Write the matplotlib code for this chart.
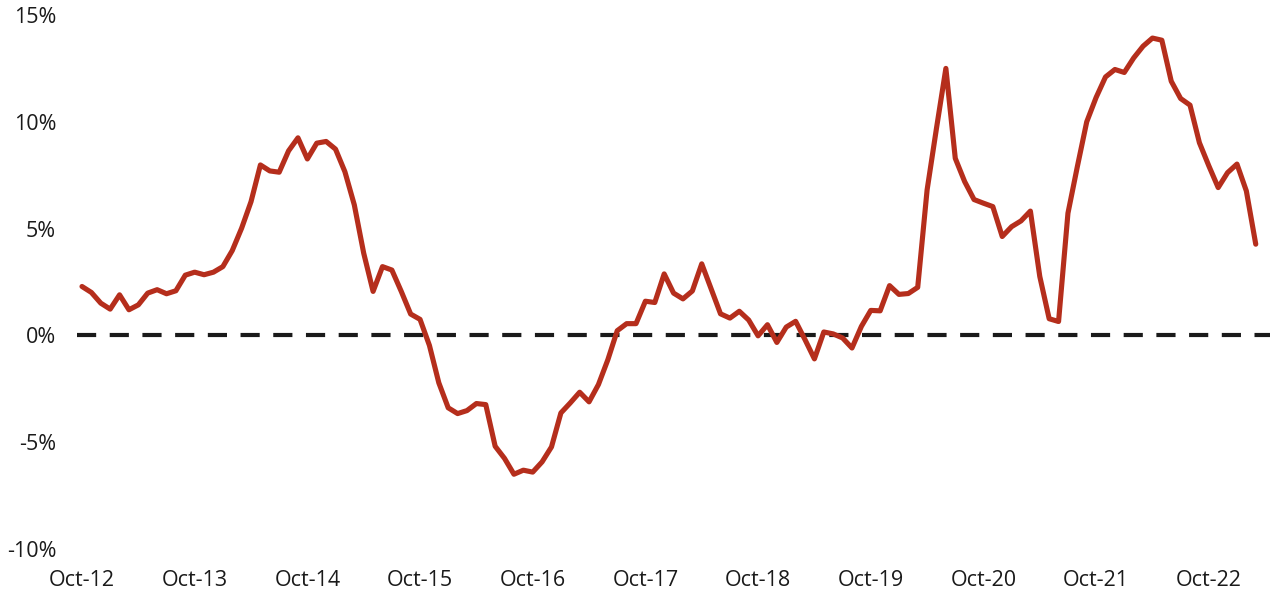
import numpy as np
import matplotlib
matplotlib.use('Agg')
import matplotlib.pyplot as plt

plt.rcParams['font.family'] = ['Open Sans', 'DejaVu Sans']

# monthly change, Oct-12 .. Mar-23 (%)
growth = [
    2.29, 2.01, 1.51, 1.23, 1.90, 1.20, 1.43, 1.98, 2.14, 1.95, 2.09, 2.82,
    2.96, 2.84, 2.96, 3.22, 3.97, 5.02, 6.26, 7.98, 7.70, 7.64, 8.64, 9.25,
    8.26, 9.00, 9.08, 8.72, 7.66, 6.11, 3.85, 2.06, 3.22, 3.06, 2.06, 1.00,
    0.75, -0.47, -2.22, -3.39, -3.66, -3.52, -3.19, -3.24, -5.19, -5.76, -6.50, -6.31,
    -6.40, -5.92, -5.22, -3.63, -3.16, -2.66, -3.11, -2.30, -1.14, 0.22, 0.55, 0.55,
    1.60, 1.54, 2.88, 1.98, 1.71, 2.08, 3.35, 2.18, 1.01, 0.81, 1.13, 0.72,
    -0.02, 0.50, -0.33, 0.39, 0.66, -0.20, -1.10, 0.16, 0.07, -0.12, -0.59, 0.42,
    1.17, 1.15, 2.33, 1.92, 1.96, 2.25, 6.81, 9.70, 12.50, 8.29, 7.20, 6.36,
    6.19, 6.03, 4.63, 5.09, 5.36, 5.82, 2.76, 0.78, 0.65, 5.72, 7.90, 10.0,
    11.14, 12.10, 12.45, 12.31, 12.99, 13.54, 13.92, 13.82, 11.90, 11.09, 10.78, 9.02,
    7.94, 6.92, 7.62, 8.02, 6.76, 4.27,
]
tick_labels = ['Oct-12', 'Oct-13', 'Oct-14', 'Oct-15', 'Oct-16', 'Oct-17',
               'Oct-18', 'Oct-19', 'Oct-20', 'Oct-21', 'Oct-22']
y_ticks = [15, 10, 5, 0, -5, -10]

x = np.arange(len(growth))

W, H = 1277, 592
fig = plt.figure(figsize=(W / 100, H / 100), dpi=100)
ax = fig.add_axes([77 / W, (H - 549) / H, (1270 - 77) / W, 534 / H])

ax.axhline(0, color='#1a1a1a', lw=3, linestyle=(0, (4.6, 3.25)), zorder=1)
ax.plot(x, growth, color='#b52e1c', lw=3.7, solid_joinstyle='round',
        solid_capstyle='round', zorder=2)

step = 9.39
ax.set_xlim(-5 / step, -5 / step + 1193 / step)
ax.set_ylim(-10, 15)

ax.set_xticks(x[::12])
ax.set_xticklabels(tick_labels)
ax.set_yticks(y_ticks)
ax.set_yticklabels(['%d%%' % v for v in y_ticks])
ax.tick_params(length=0, labelsize=15.5, colors='#1a1a1a')
ax.tick_params(axis='x', pad=15)
ax.tick_params(axis='y', pad=15)
for s in ax.spines.values():
    s.set_visible(False)

fig.savefig('out.png', dpi=100)
